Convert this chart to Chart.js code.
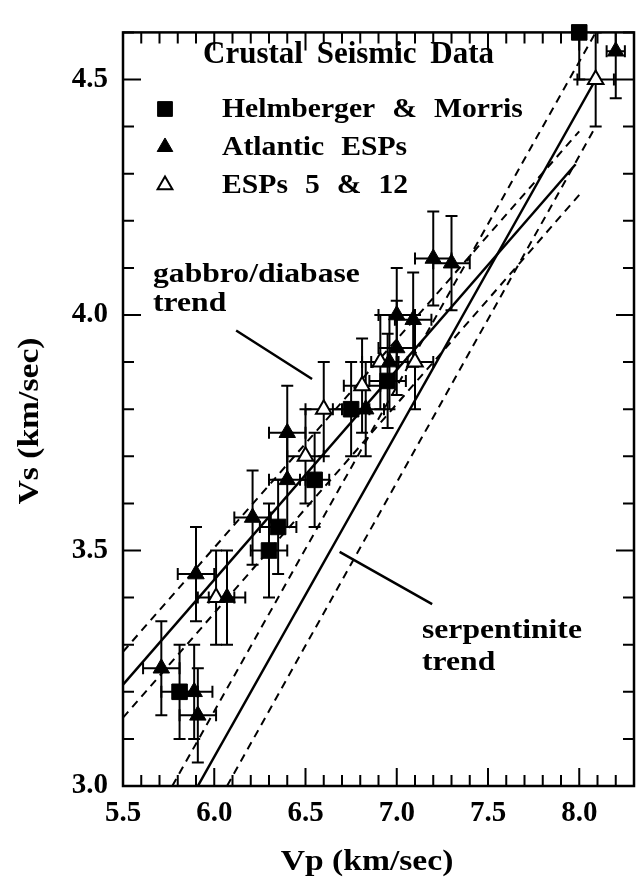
<!DOCTYPE html>
<html><head><meta charset="utf-8">
<script src="https://cdn.jsdelivr.net/npm/chart.js@4.4.1/dist/chart.umd.min.js"></script>
<style>html,body{margin:0;padding:0;background:#fff;overflow:hidden;}canvas{display:block;}</style>
</head><body>
<canvas id="c" width="646" height="879" style="width:646px;height:879px"></canvas>
<script>
// ---------- data ----------
const hmVp    = [5.81, 6.30, 6.35, 6.55, 6.75, 6.95, 8.00];
const hmVs    = [3.20, 3.50, 3.55, 3.65, 3.80, 3.86, 4.60];
const hmVpErr = [0.10, 0.10, 0.10, 0.08, 0.10, 0.10, 0.00];
const hmVsErr = [0.10, 0.10, 0.10, 0.10, 0.10, 0.10, 0.10];

const atVp    = [5.71, 5.89, 5.91, 5.90, 6.07, 6.21, 6.40, 6.40, 6.83, 6.96, 7.00, 7.00, 7.09, 7.20, 7.30, 8.20];
const atVs    = [3.25, 3.20, 3.15, 3.45, 3.40, 3.57, 3.65, 3.75, 3.80, 3.90, 3.93, 4.00, 3.99, 4.12, 4.11, 4.56];
const atVpErr = [0.10, 0.10, 0.10, 0.10, 0.10, 0.10, 0.10, 0.10, 0.10, 0.10, 0.10, 0.10, 0.10, 0.10, 0.10, 0.05];
const atVsErr = [0.10, 0.10, 0.10, 0.10, 0.10, 0.10, 0.10, 0.10, 0.10, 0.10, 0.10, 0.10, 0.10, 0.10, 0.10, 0.10];

const esVp    = [6.01, 6.50, 6.60, 6.81, 6.91, 7.10, 8.09];
const esVs    = [3.40, 3.70, 3.80, 3.85, 3.90, 3.90, 4.50];
const esVpErr = [0.10, 0.10, 0.10, 0.10, 0.10, 0.10, 0.10];
const esVsErr = [0.10, 0.10, 0.10, 0.10, 0.10, 0.10, 0.10];

// trend lines (end points)
const gabbroVp   = [5.50, 7.98], gabbroVs   = [3.215, 4.32];
const gabbroUpVp = [5.50, 8.00], gabbroUpVs = [3.285, 4.39];
const gabbroLoVp = [5.50, 8.00], gabbroLoVs = [3.145, 4.255];
const serpVp     = [5.91, 8.09], serpVs     = [3.00, 4.50];
const serpUpVp   = [5.77, 8.09], serpUpVs   = [3.00, 4.60];
const serpLoVp   = [6.07, 8.09], serpLoVs   = [3.00, 4.40];

// leader lines for the trend labels
const gabbroPtrVp = [6.12, 6.536], gabbroPtrVs = [3.967, 3.864];
const serpPtrVp   = [6.687, 7.194], serpPtrVs  = [3.497, 3.386];

// axes
const xMin = 5.5, xMax = 8.3, yMin = 3.0, yMax = 4.6;
const xTickValues = [5.5, 6.0, 6.5, 7.0, 7.5, 8.0];
const xTickLabels = ['5.5', '6.0', '6.5', '7.0', '7.5', '8.0'];
const yTickValues = [3.0, 3.5, 4.0, 4.5];
const yTickLabels = ['3.0', '3.5', '4.0', '4.5'];

const seriesNames = ['Helmberger & Morris', 'Atlantic ESPs', 'ESPs 5 & 12'];
const titleText = 'Crustal Seismic Data';
const xTitle = 'Vp (km/sec)', yTitle = 'Vs (km/sec)';

// ---------- helpers ----------
const pts = (xs, ys) => xs.map((x, i) => ({x: x, y: ys[i]}));
const FONT = '"Liberation Serif", "Times New Roman", serif';

function lineDs(xs, ys, dashed, w) {
  return {type: 'scatter', data: pts(xs, ys), showLine: true, pointRadius: 0, borderColor: '#000',
    borderWidth: w, borderDash: dashed ? [8, 6] : [], fill: false, tension: 0, order: 5};
}

const pointDatasets = [
  {label: seriesNames[0], data: pts(hmVp, hmVs), xErr: hmVpErr, yErr: hmVsErr, pointStyle: 'rect',
   pointRadius: 11, backgroundColor: '#000', borderColor: '#000', borderWidth: 1, order: 0, clip: false, isPts: true},
  {label: seriesNames[1], data: pts(atVp, atVs), xErr: atVpErr, yErr: atVsErr, pointStyle: 'triangle',
   pointRadius: 9.5, backgroundColor: '#000', borderColor: '#000', borderWidth: 1, order: 0, clip: false, isPts: true},
  {label: seriesNames[2], data: pts(esVp, esVs), xErr: esVpErr, yErr: esVsErr, pointStyle: 'triangle',
   pointRadius: 9, backgroundColor: '#fff', borderColor: '#000', borderWidth: 2, order: 0, clip: false, isPts: true}
];

function txt(ctx, s, x, y, size, sx, ws, align, rot) {
  ctx.save();
  ctx.font = 'bold ' + size + 'px ' + FONT;
  ctx.fillStyle = '#000';
  ctx.textBaseline = 'alphabetic';
  ctx.textAlign = align || 'left';
  if ('wordSpacing' in ctx) ctx.wordSpacing = (ws || 0) + 'px';
  ctx.translate(x, y);
  if (rot) ctx.rotate(rot);
  ctx.scale(sx, 1);
  ctx.fillText(s, 0, 0);
  ctx.restore();
}

const errorBars = {
  id: 'errorBars',
  beforeDatasetsDraw(chart) {
    const {ctx, chartArea: a, scales: {x, y}} = chart;
    ctx.save();
    ctx.beginPath(); ctx.rect(a.left, a.top, a.right - a.left, a.bottom - a.top); ctx.clip();
    ctx.strokeStyle = '#000'; ctx.lineWidth = 2;
    chart.data.datasets.forEach(ds => {
      if (!ds.isPts) return;
      ds.data.forEach((p, i) => {
        const px = x.getPixelForValue(p.x), py = y.getPixelForValue(p.y);
        const ey = ds.yErr[i], ex = ds.xErr[i], c = 6;
        ctx.beginPath();
        if (ey > 0) {
          const t = y.getPixelForValue(p.y + ey), b = y.getPixelForValue(p.y - ey);
          ctx.moveTo(px, t); ctx.lineTo(px, b);
          ctx.moveTo(px - c, t); ctx.lineTo(px + c, t);
          ctx.moveTo(px - c, b); ctx.lineTo(px + c, b);
        }
        if (ex > 0) {
          const l = x.getPixelForValue(p.x - ex), r = x.getPixelForValue(p.x + ex);
          ctx.moveTo(l, py); ctx.lineTo(r, py);
          ctx.moveTo(l, py - c); ctx.lineTo(l, py + c);
          ctx.moveTo(r, py - c); ctx.lineTo(r, py + c);
        }
        ctx.stroke();
      });
    });
    ctx.restore();
  }
};

const frameAndText = {
  id: 'frameAndText',
  afterDraw(chart) {
    const {ctx, chartArea: a, scales: {x, y}} = chart;
    ctx.save();
    ctx.strokeStyle = '#000';
    // frame
    ctx.lineWidth = 2.5;
    ctx.strokeRect(a.left, a.top, a.right - a.left, a.bottom - a.top);
    // inward ticks on all four sides
    ctx.lineWidth = 2;
    ctx.beginPath();
    for (let k = Math.round(xMin * 10); k <= Math.round(xMax * 10); k++) {
      const px = x.getPixelForValue(k / 10), len = (k % 5 === 0) ? 18 : 11;
      ctx.moveTo(px, a.bottom); ctx.lineTo(px, a.bottom - len);
      ctx.moveTo(px, a.top); ctx.lineTo(px, a.top + len);
    }
    for (let k = Math.round(yMin * 10); k <= Math.round(yMax * 10); k++) {
      const py = y.getPixelForValue(k / 10), len = (k % 5 === 0) ? 18 : 11;
      ctx.moveTo(a.left, py); ctx.lineTo(a.left + len, py);
      ctx.moveTo(a.right, py); ctx.lineTo(a.right - len, py);
    }
    ctx.stroke();
    // leader lines
    ctx.lineWidth = 2.5;
    ctx.beginPath();
    ctx.moveTo(x.getPixelForValue(gabbroPtrVp[0]), y.getPixelForValue(gabbroPtrVs[0]));
    ctx.lineTo(x.getPixelForValue(gabbroPtrVp[1]), y.getPixelForValue(gabbroPtrVs[1]));
    ctx.moveTo(x.getPixelForValue(serpPtrVp[0]), y.getPixelForValue(serpPtrVs[0]));
    ctx.lineTo(x.getPixelForValue(serpPtrVp[1]), y.getPixelForValue(serpPtrVs[1]));
    ctx.stroke();
    ctx.restore();

    // title + legend
    txt(ctx, titleText, 203, 63, 31, 1.0, 6);
    const legY = [117, 155, 193];
    chart.data.datasets.filter(d => d.isPts).forEach((d, i) => {
      ctx.save();
      ctx.fillStyle = d.backgroundColor; ctx.strokeStyle = d.borderColor; ctx.lineWidth = d.borderWidth;
      Chart.helpers.drawPoint(ctx, {pointStyle: d.pointStyle, radius: d.pointRadius * 0.95, rotation: 0,
        borderWidth: d.borderWidth}, 165, legY[i] - 8);
      ctx.restore();
      txt(ctx, d.label, 222, legY[i], 28, 1.06, 9);
    });
    // trend labels
    txt(ctx, 'gabbro/diabase', 153, 282, 28, 1.13, 0);
    txt(ctx, 'trend', 153, 311, 28, 1.13, 0);
    txt(ctx, 'serpentinite', 422, 638, 28, 1.13, 0);
    txt(ctx, 'trend', 422, 670, 28, 1.13, 0);
    // axis titles
    txt(ctx, xTitle, 367, 870, 30, 1.12, 0, 'center');
    txt(ctx, yTitle, 38, 421, 30, 1.12, 0, 'center', -Math.PI / 2);
  }
};

const tickFont = {family: FONT, weight: 'bold', size: 29};

new Chart(document.getElementById('c'), {
  type: 'scatter',
  data: {
    datasets: [
      ...pointDatasets,
      lineDs(gabbroVp, gabbroVs, false, 2.5),
      lineDs(gabbroUpVp, gabbroUpVs, true, 2),
      lineDs(gabbroLoVp, gabbroLoVs, true, 2),
      lineDs(serpVp, serpVs, false, 2.5),
      lineDs(serpUpVp, serpUpVs, true, 2),
      lineDs(serpLoVp, serpLoVs, true, 2)
    ]
  },
  options: {
    responsive: false, animation: false, devicePixelRatio: 1,
    layout: {padding: {left: 0, top: 10, right: 4, bottom: 0}},
    plugins: {legend: {display: false}, tooltip: {enabled: false}, title: {display: false}},
    scales: {
      x: {
        type: 'linear', position: 'bottom', min: xMin, max: xMax,
        grid: {display: false, drawTicks: false}, border: {display: false},
        afterBuildTicks: s => { s.ticks = xTickValues.map(v => ({value: v})); },
        afterFit: s => { s.height = 93; },
        ticks: {autoSkip: false, maxRotation: 0, padding: 10, color: '#000', font: tickFont,
          callback: v => { const i = xTickValues.findIndex(t => Math.abs(t - v) < 1e-6); return i >= 0 ? xTickLabels[i] : ''; }}
      },
      y: {
        type: 'linear', position: 'left', min: yMin, max: yMax,
        grid: {display: false, drawTicks: false}, border: {display: false},
        afterBuildTicks: s => { s.ticks = yTickValues.map(v => ({value: v})); },
        afterFit: s => { s.width = 123; },
        ticks: {autoSkip: false, padding: 15, color: '#000', font: tickFont,
          callback: v => { const i = yTickValues.findIndex(t => Math.abs(t - v) < 1e-6); return i >= 0 ? yTickLabels[i] : ''; }}
      }
    }
  },
  plugins: [errorBars, frameAndText]
});
</script>
</body></html>
